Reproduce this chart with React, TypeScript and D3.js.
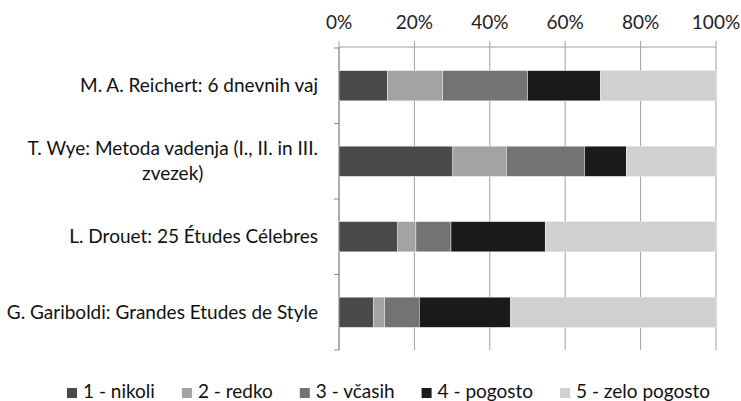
import React, { useEffect, useRef } from "react";
import * as d3 from "d3";

const categories = [
  "M. A. Reichert: 6 dnevnih vaj",
  "T. Wye: Metoda vadenja (I., II. in III.|zvezek)",
  "L. Drouet: 25 Études Célebres",
  "G. Gariboldi: Grandes Etudes de Style",
];
const seriesNames = ["1 - nikoli", "2 - redko", "3 - včasih", "4 - pogosto", "5 - zelo pogosto"];
const nikoli = [12.9, 30.2, 15.6, 9.2];
const redko = [14.6, 14.2, 4.8, 2.9];
const vcasih = [22.5, 20.7, 9.3, 9.2];
const pogosto = [19.3, 11.1, 25.0, 24.2];
const zeloPogosto = [30.7, 23.8, 45.3, 54.5];
const xTicks = [0, 20, 40, 60, 80, 100];
const colors = ["#4a4a4a", "#a3a3a3", "#737373", "#1a1a1a", "#d0d0d0"];

const W = 741;
const H = 401;
const FONT = "Lato, 'Open Sans', sans-serif";

export default function App() {
  const ref = useRef<SVGSVGElement>(null);

  useEffect(() => {
    const svg = d3.select(ref.current);
    svg.selectAll("*").remove();

    const left = 339, right = 716, top = 47, bottom = 350;
    const x = d3.scaleLinear().domain([0, 100]).range([left, right]);
    const y = d3.scaleBand<number>().domain(d3.range(categories.length)).range([top + 1, bottom]).paddingInner(0.6).paddingOuter(0.3);

    const series = [nikoli, redko, vcasih, pogosto, zeloPogosto];
    const rows = categories.map((c, i) => {
      const r: any = { i };
      seriesNames.forEach((s, k) => (r[s] = series[k][i]));
      return r;
    });
    const stacked = d3.stack().keys(seriesNames)(rows);

    const grid = svg.append("g");
    // gridlines
    grid.selectAll("line.g").data(xTicks).join("line")
      .attr("x1", (d) => x(d)).attr("x2", (d) => x(d))
      .attr("y1", top - 6).attr("y2", bottom)
      .attr("stroke", "#a0a0a0").attr("stroke-width", 1);
    // top axis line
    grid.append("line").attr("x1", x(0)).attr("x2", x(100)).attr("y1", top).attr("y2", top)
      .attr("stroke", "#a0a0a0");
    // left axis
    grid.append("line").attr("x1", left).attr("x2", left).attr("y1", top).attr("y2", bottom)
      .attr("stroke", "#8a8a8a");
    const step = y.step();
    const boundaries = d3.range(categories.length + 1).map((i) => (y(0)! - (step - y.bandwidth()) / 2) + i * step);
    grid.selectAll("line.b").data(boundaries).join("line")
      .attr("x1", left - 5).attr("x2", left)
      .attr("y1", (d) => d).attr("y2", (d) => d)
      .attr("stroke", "#8a8a8a");

    // tick labels
    svg.append("g").selectAll("text").data(xTicks).join("text")
      .attr("x", (d) => x(d)).attr("y", 29)
      .attr("text-anchor", "middle")
      .attr("font-family", FONT).attr("font-size", 19).attr("fill", "#222")
      .text((d) => `${d}%`);

    // bars
    svg.append("g").selectAll("g").data(stacked).join("g")
      .attr("fill", (_d, k) => colors[k])
      .selectAll("rect").data((d) => d).join("rect")
      .attr("x", (d) => x(d[0]))
      .attr("width", (d) => x(d[1]) - x(d[0]))
      .attr("y", (d: any) => y(d.data.i)!)
      .attr("height", y.bandwidth())
      .attr("stroke", "#eeeeee").attr("stroke-width", 0.5);

    // category labels
    const labelX = 318;
    categories.forEach((c, i) => {
      const lines = c.split("|");
      const cy = y(i)! + y.bandwidth() / 2;
      if (lines.length === 1) {
        svg.append("text").attr("x", labelX).attr("y", cy).attr("dy", "0.35em")
          .attr("text-anchor", "end").attr("font-family", FONT).attr("font-size", 19)
          .attr("fill", "#111").text(lines[0]);
      } else {
        const lh = 25;
        const t1 = svg.append("text").attr("x", labelX).attr("y", cy - lh / 2).attr("dy", "0.35em")
          .attr("text-anchor", "end").attr("font-family", FONT).attr("font-size", 19)
          .attr("fill", "#111").text(lines[0]);
        const w1 = (t1.node() as SVGTextElement).getComputedTextLength();
        svg.append("text").attr("x", labelX - w1 / 2).attr("y", cy + lh / 2).attr("dy", "0.35em")
          .attr("text-anchor", "middle").attr("font-family", FONT).attr("font-size", 19)
          .attr("fill", "#111").text(lines[1]);
      }
    });

    // legend
    const lg = svg.append("g");
    let lx = 67;
    seriesNames.forEach((s, k) => {
      lg.append("rect").attr("x", lx).attr("y", 388).attr("width", 10).attr("height", 10).attr("fill", colors[k]);
      const t = lg.append("text").attr("x", lx + 16).attr("y", 398)
        .attr("font-family", FONT).attr("font-size", 19).attr("fill", "#111").text(s);
      const w = (t.node() as SVGTextElement).getComputedTextLength();
      lx += 16 + w + 27;
    });
  }, []);

  return (
    <svg ref={ref} width={W} height={H} style={{ position: "absolute", left: 0, top: 0, background: "#fff" }} />
  );
}
